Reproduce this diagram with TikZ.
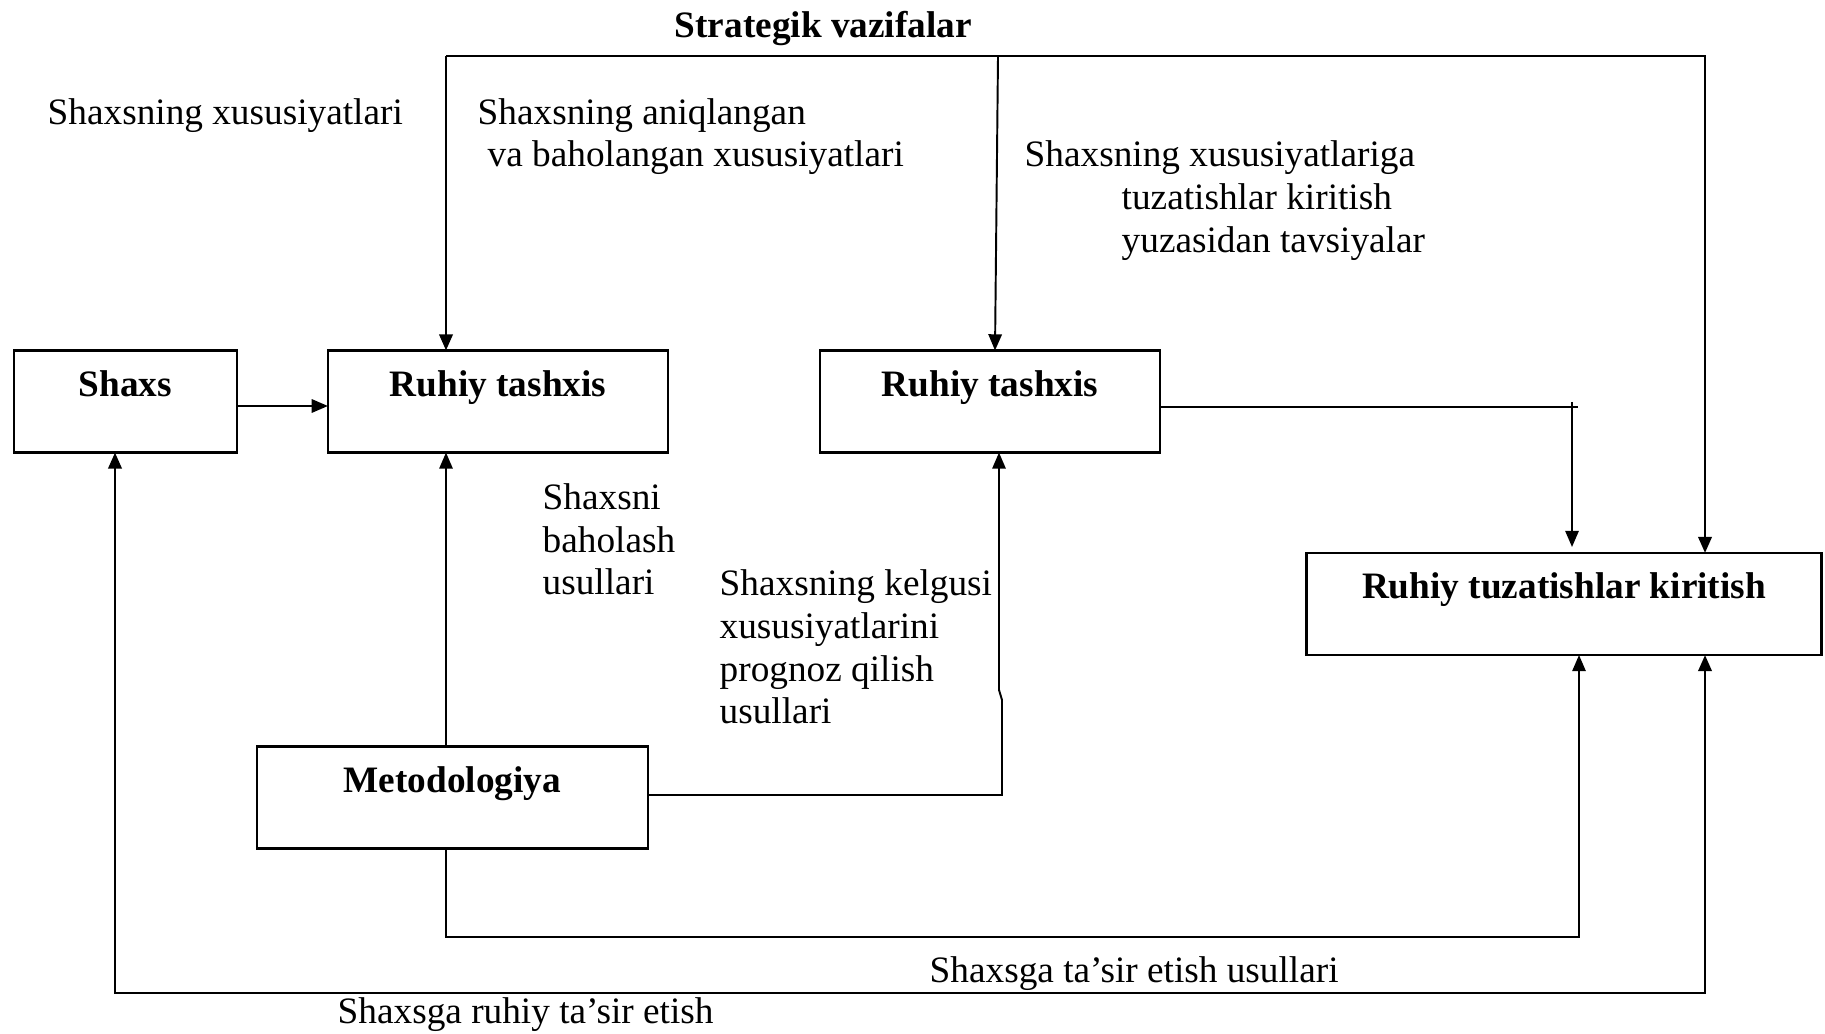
\documentclass[tikz,border=0pt]{standalone}
\usepackage{fontspec}
\setmainfont{Liberation Serif}
\usetikzlibrary{arrows.meta,calc}
\begin{document}
\begin{tikzpicture}[x=0.01cm, y=-0.01cm,
  every node/.style={font=\fontsize{10.6}{12.1}\selectfont},
  box/.style={draw, line width=0.75pt, inner sep=0pt, outer sep=0pt,
    font=\fontsize{10.6}{12.1}\selectfont\bfseries,
    text height=8pt, text depth=10.85pt, minimum height=1.02cm},
  txt/.style={anchor=base west, inner sep=0pt, align=left},
  conn/.style={line width=0.55pt, -{Triangle[length=4.6pt, width=3.8pt]}},
  plain/.style={line width=0.55pt},
  thick conn/.style={line width=0.8pt, -{Triangle[length=4.6pt, width=3.8pt]}}]
\useasboundingbox (0,0) rectangle (1825,1034);

% boxes
\node[box, minimum width=2.23cm] (sh)   at (125.5,401.5) {Shaxs};
\node[box, minimum width=3.40cm] (rt1)  at (498,401.5)   {Ruhiy tashxis};
\node[box, minimum width=3.40cm] (rt2)  at (990,401.5)   {Ruhiy tashxis};
\node[box, minimum width=5.15cm] (rtk)  at (1564,604)    {Ruhiy tuzatishlar kiritish};
\node[box, minimum width=3.91cm] (meto) at (452.5,797.5) {Metodologiya};

% texts
\node[txt, font=\fontsize{10.6}{12.1}\selectfont\bfseries] (sv) at (674,38) {Strategik vazifalar};
\node[txt] (t1) at (47,125) {Shaxsning xususiyatlari};
\node[txt] (t2a) at (477,125) {Shaxsning aniqlangan};
\node[txt] (t2b) at (487,167) {va baholangan xususiyatlari};
\node[txt] (t3a) at (1024,167) {Shaxsning xususiyatlariga};
\node[txt] (t3b) at (1121,210) {tuzatishlar kiritish};
\node[txt] (t3c) at (1121,253) {yuzasidan tavsiyalar};
\node[txt] (t4a) at (542,510) {Shaxsni};
\node[txt] (t4b) at (542,552) {baholash};
\node[txt] (t4c) at (542,594) {usullari};
\node[txt] (t5a) at (719,595) {Shaxsning kelgusi};
\node[txt] (t5b) at (719,638) {xususiyatlarini};
\node[txt] (t5c) at (719,681) {prognoz qilish};
\node[txt] (t5d) at (719,723) {usullari};
\node[txt] (t6) at (929,982) {Shaxsga ta’sir etish usullari};
\node[txt] (t7) at (337,1023) {Shaxsga ruhiy ta’sir etish};

% frame coordinates
\coordinate (ftl) at (446,56);
\coordinate (ftr) at (1705,56);
\coordinate (fmid) at (998,56);
\coordinate (cross) at (1572,407);
\coordinate (low) at (446,937);
\coordinate (lowr) at (1579,937);
\coordinate (outr) at (1705,993);
\coordinate (outl) at (115,993);

% connectors
\draw[conn] (sh.east |- 0,406) -- (rt1.west |- 0,406);
\draw[thick conn] (ftl) -- (ftl |- rt1.north);
\draw[thick conn] (ftl) -- (ftr) -- (ftr |- rtk.north);
\draw[conn] (fmid) -- (rt2.north -| 995,0);
\draw[plain] (rt2.east |- cross) -- ($(cross)+(6,0)$);
\draw[conn] ($(cross)+(0,-5)$) -- (1572,547);
\draw[conn] (meto.north -| ftl) -- (rt1.south -| ftl);
\draw[conn] (meto.east |- 0,795) -- (1002,795) -- (1002,700) -- (999,690) -- (rt2.south -| 999,0);
\draw[conn] (meto.south -| low) -- (low) -- (lowr) -- (rtk.south -| lowr);
\draw[thick conn, {Triangle[length=4.6pt, width=3.8pt]}-{Triangle[length=4.6pt, width=3.8pt]}]
  (rtk.south -| outr) -- (outr) -- (outl) -- (sh.south -| outl);
\end{tikzpicture}
\end{document}
